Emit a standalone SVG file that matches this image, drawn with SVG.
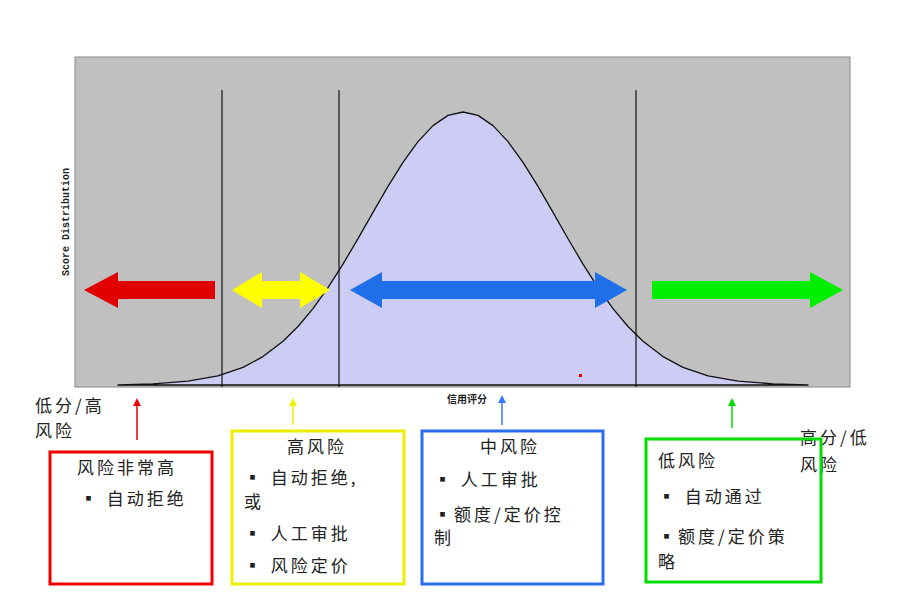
<svg xmlns="http://www.w3.org/2000/svg" width="907" height="598" viewBox="0 0 907 598">
<style>
.t{font-family:"Noto Sans CJK SC","Liberation Serif",serif;font-size:17px;fill:#222;letter-spacing:3px}
.box{fill:none;stroke-width:3}
.vl{stroke:#111;stroke-width:1.2}
</style>
<defs>
<marker id="ah" markerWidth="8" markerHeight="8" refX="4" refY="4" orient="auto" markerUnits="userSpaceOnUse"><path d="M0,0 L8,4 L0,8 z" fill="context-stroke"/></marker>
</defs>
<rect width="907" height="598" fill="#fff"/>
<g id="chart">
<rect x="75" y="57" width="775" height="330" fill="#c0c0c0" stroke="#888"/>
<path d="M118,385 L153,383.8 L188,381.2 L218,375.9 L243,367.4 L263,356.6 L283,341.3 L298,326.5 L313,308.6 L328,287.6 L343,264.1 L358,238.7 L373,212.4 L388,186.4 L403,162.3 L418,141.6 L433,125.6 L448,115.4 L463,112 L478,115.4 L493,125.6 L508,141.6 L523,162.3 L538,186.4 L553,212.4 L568,238.7 L583,264.1 L598,287.6 L613,308.6 L628,326.5 L643,341.3 L663,356.6 L683,367.4 L708,375.9 L738,381.2 L773,383.8 L808,385 Z" fill="#ccccf4" stroke="#111" stroke-width="1.3" stroke-linejoin="round"/>
<line class="vl" x1="222" y1="90" x2="222" y2="387"/>
<line class="vl" x1="339" y1="90" x2="339" y2="387"/>
<line class="vl" x1="636" y1="90" x2="636" y2="387"/>
<text x="0" y="0" transform="translate(69,222) rotate(-90)" text-anchor="middle" font-family="Liberation Mono,monospace" font-size="10" font-weight="bold" fill="#222">Score Distribution</text>
<text x="467" y="403" text-anchor="middle" font-family="Noto Sans CJK SC,sans-serif" font-size="10" font-weight="bold" fill="#222">信用评分</text>
<rect x="579" y="374" width="3" height="3" fill="#e00"/>
</g>
<g id="bigarrows">
<path d="M215,281 L118,281 L118,272 L84,290 L118,308 L118,299 L215,299 Z" fill="#e00000"/>
<path d="M232,290 L262,272 L262,281 L300,281 L300,272 L330,290 L300,308 L300,299 L262,299 L262,308 Z" fill="#ffff00"/>
<path d="M350,290 L382,272 L382,281 L595,281 L595,272 L627,290 L595,308 L595,299 L382,299 L382,308 Z" fill="#1e6fe8"/>
<path d="M652,281 L810,281 L810,272 L843,290 L810,308 L810,299 L652,299 Z" fill="#00ee00"/>
</g>
<g id="connectors">
<line x1="137" y1="440" x2="137" y2="402" stroke="#e00" stroke-width="1.5" marker-end="url(#ah)"/>
<line x1="293" y1="425" x2="293" y2="402" stroke="#ee0" stroke-width="1.5" marker-end="url(#ah)"/>
<line x1="502" y1="425" x2="502" y2="399" stroke="#37f" stroke-width="1.5" marker-end="url(#ah)"/>
<line x1="732" y1="428" x2="732" y2="402" stroke="#0d0" stroke-width="1.5" marker-end="url(#ah)"/>
</g>
<g id="labels">
<text class="t" x="35" y="412">低分/高</text>
<text class="t" x="35" y="437">风险</text>
<text class="t" x="800" y="444">高分/低</text>
<text class="t" x="800" y="471">风险</text>
</g>
<g id="n-red">
<rect class="box" x="50" y="452" width="162" height="132" stroke="#e00"/>
<text class="t" x="77" y="474">风险非常高</text>
<text class="t" x="80" y="505">▪ 自动拒绝</text>
</g>
<g id="n-yellow">
<rect class="box" x="232" y="431" width="172" height="153" stroke="#ee0"/>
<text class="t" x="287" y="453">高风险</text>
<text class="t" x="244" y="484">▪ 自动拒绝,</text>
<text class="t" x="244" y="508">或</text>
<text class="t" x="244" y="540">▪ 人工审批</text>
<text class="t" x="244" y="572">▪ 风险定价</text>
</g>
<g id="n-blue">
<rect class="box" x="422" y="431" width="181" height="153" stroke="#2a6ef0"/>
<text class="t" x="480" y="453">中风险</text>
<text class="t" x="434" y="486">▪ 人工审批</text>
<text class="t" x="434" y="521">▪额度/定价控</text>
<text class="t" x="434" y="544">制</text>
</g>
<g id="n-green">
<rect class="box" x="646" y="439" width="175" height="143" stroke="#00dd00"/>
<text class="t" x="658" y="467">低风险</text>
<text class="t" x="658" y="503">▪ 自动通过</text>
<text class="t" x="658" y="543">▪额度/定价策</text>
<text class="t" x="658" y="568">略</text>
</g>
</svg>
